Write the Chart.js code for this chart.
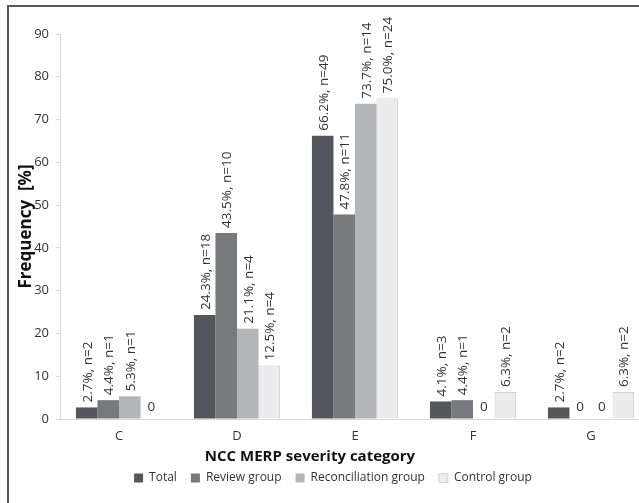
<!DOCTYPE html>
<html>
<head>
<meta charset="utf-8">
<script src="https://cdn.jsdelivr.net/npm/chart.js@4.4.1/dist/chart.umd.min.js"></script>
<style>
  html, body { margin: 0; padding: 0; background: #fff; overflow: hidden; width: 639px; height: 503px; }
  #frame { position: absolute; left: 7px; top: 5px; width: 800px; height: 800px; border: 2px solid #5a5a5a; box-sizing: border-box; }
  #wrap { position: absolute; left: 0; top: 0; width: 660px; height: 503px; }
</style>
</head>
<body>
<div id="frame"></div>
<div id="wrap"><canvas id="c" width="660" height="503"></canvas></div>
<script>
const categories = ["C", "D", "E", "F", "G"];
const seriesNames = ["Total", "Review group", "Reconciliation group", "Control group"];
const totalPct = [2.7, 24.3, 66.2, 4.1, 2.7];
const totalN = [2, 18, 49, 3, 2];
const reviewPct = [4.4, 43.5, 47.8, 4.4, 0];
const reviewN = [1, 10, 11, 1, 0];
const reconPct = [5.3, 21.1, 73.7, 0, 0];
const reconN = [1, 4, 14, 0, 0];
const controlPct = [0, 12.5, 75.0, 6.3, 6.3];
const controlN = [0, 4, 24, 2, 2];
const yTicks = [0, 10, 20, 30, 40, 50, 60, 70, 80, 90];
const xTitle = "NCC MERP severity category";
const yTitle = "Frequency  [%]";

const FONT = "'Open Sans', sans-serif";
const txt = "#333333";

const nLists = [totalN, reviewN, reconN, controlN];

const labelPlugin = {
  id: 'barLabels',
  afterDatasetsDraw(chart) {
    const ctx = chart.ctx;
    ctx.save();
    ctx.fillStyle = txt;
    ctx.font = "13.5px " + FONT;
    chart.data.datasets.forEach((ds, di) => {
      const meta = chart.getDatasetMeta(di);
      meta.data.forEach((bar, i) => {
        const v = ds.data[i];
        if (v === 0) {
          ctx.textAlign = 'center';
          ctx.textBaseline = 'middle';
          ctx.fillText('0', bar.x, bar.base - 12);
        } else {
          const label = v.toFixed(1) + '%, n=' + nLists[di][i];
          ctx.save();
          ctx.translate(bar.x + 1, bar.y - 5);
          ctx.rotate(-Math.PI / 2);
          ctx.textAlign = 'left';
          ctx.textBaseline = 'middle';
          ctx.fillText(label, 0, 0);
          ctx.restore();
        }
      });
    });
    // x axis title
    ctx.fillStyle = '#111';
    ctx.font = "bold 15px " + FONT;
    ctx.textAlign = 'center';
    ctx.textBaseline = 'alphabetic';
    ctx.fillText(xTitle, chart.chartArea.left + 250, 461);
    ctx.restore();
  }
};

new Chart(document.getElementById('c'), {
  type: 'bar',
  data: {
    labels: categories,
    datasets: [
      { label: seriesNames[0], data: totalPct, backgroundColor: '#53575b', borderWidth: 0 },
      { label: seriesNames[1], data: reviewPct, backgroundColor: '#77797c', borderWidth: 0 },
      { label: seriesNames[2], data: reconPct, backgroundColor: '#b3b5b8', borderWidth: 0 },
      { label: seriesNames[3], data: controlPct, backgroundColor: '#ececec', borderColor: '#d2d2d2', borderWidth: 1, borderSkipped: 'bottom' }
    ]
  },
  options: {
    responsive: false,
    animation: false,
    events: [],
    layout: { padding: { left: 16, right: 10, top: 34, bottom: 9 } },
    datasets: { bar: { categoryPercentage: 0.73, barPercentage: 1.0 } },
    plugins: {
      tooltip: { enabled: false },
      legend: {
        position: 'bottom',
        labels: {
          font: { family: FONT, size: 12 },
          color: txt,
          boxWidth: 9,
          boxHeight: 9,
          padding: 14
        }
      }
    },
    scales: {
      x: {
        grid: { display: true, drawOnChartArea: false, drawTicks: false },
        border: { color: '#d9d9d9', width: 1 },
        ticks: { font: { family: FONT, size: 13 }, color: txt, padding: 9 },
        title: { display: false },
        afterFit(scale) { scale.height = 39; }
      },
      y: {
        min: 0, max: 90,
        afterBuildTicks(scale) { scale.ticks = yTicks.map(v => ({ value: v })); },
        grid: { display: true, drawOnChartArea: false, drawTicks: true, tickLength: 4, color: '#d9d9d9' },
        border: { color: '#d9d9d9', width: 1 },
        ticks: { font: { family: FONT, size: 13 }, color: txt, padding: 7 },
        title: { display: true, text: yTitle, font: { family: FONT, size: 17, weight: 'bold' }, color: '#111', padding: { top: 0, bottom: 0 } },
        afterFit(scale) { scale.width = 44; }
      }
    }
  },
  plugins: [labelPlugin]
});
</script>
</body>
</html>
